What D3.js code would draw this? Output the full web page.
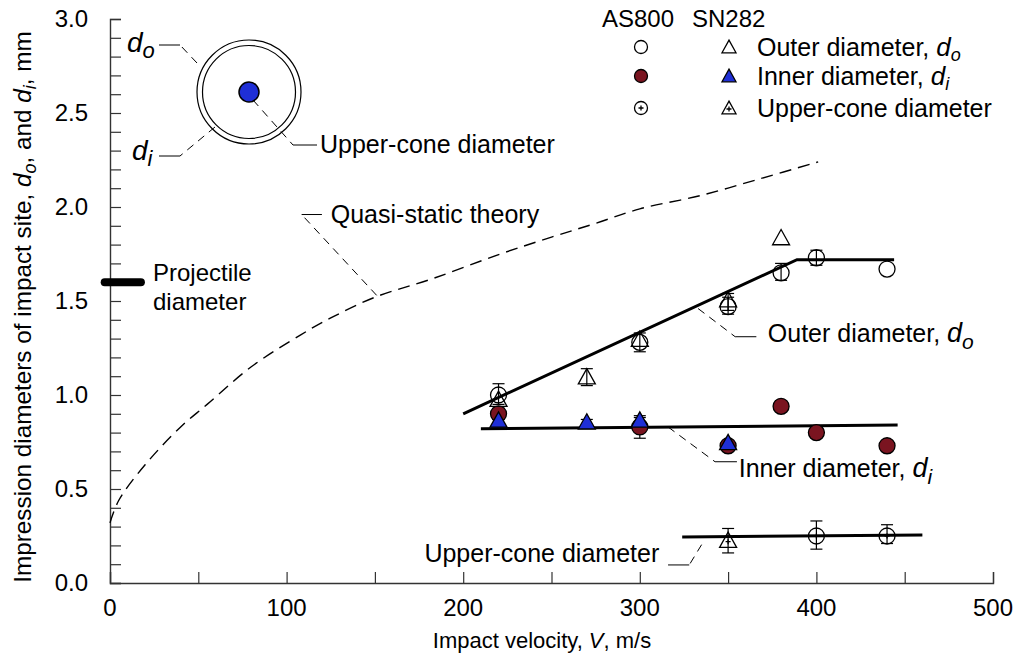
<!DOCTYPE html>
<html>
<head>
<meta charset="utf-8">
<script src="https://cdn.jsdelivr.net/npm/d3@7"></script>
<style>
  body { margin: 0; background: #fff; }
  svg { font-family: "Liberation Sans", Arial, sans-serif; }
</style>
</head>
<body>
<svg id="chart" width="1023" height="658"></svg>
<script>
// data
const xTicks = [0, 100, 200, 300, 400, 500];
const yTicks = [0, 0.5, 1.0, 1.5, 2.0, 2.5, 3.0];

// AS800 (circles)
const asOuterV = [220, 300, 350, 380, 400, 440];
const asOuterD = [1.00, 1.28, 1.47, 1.65, 1.73, 1.67];
const asOuterLo = [0.95, 1.23, 1.43, 1.61, 1.69, null];
const asOuterHi = [1.06, 1.33, 1.52, 1.70, 1.77, null];

const asInnerV = [220, 300, 350, 380, 400, 440];
const asInnerD = [0.90, 0.83, 0.73, 0.94, 0.80, 0.73];
const asInnerLo = [0.87, 0.77, null, 0.92, 0.78, null];
const asInnerHi = [0.93, 0.89, null, 0.96, 0.82, null];

const asConeV = [400, 440];
const asConeD = [0.25, 0.25];
const asConeLo = [0.18, 0.21];
const asConeHi = [0.33, 0.31];

// SN282 (triangles)
const snOuterV = [220, 270, 300, 350, 380];
const snOuterD = [0.97, 1.09, 1.29, 1.50, 1.83];
const snOuterLo = [null, 1.05, null, 1.45, null];
const snOuterHi = [null, 1.14, null, 1.54, null];

const snInnerV = [220, 270, 300, 350];
const snInnerD = [0.86, 0.85, 0.86, 0.74];
const snInnerLo = [null, 0.83, null, null];
const snInnerHi = [null, 0.87, 0.88, null];

const snConeV = [350];
const snConeD = [0.22];
const snConeLo = [0.16];
const snConeHi = [0.29];

// fitted lines
const fitOuterV = [200, 389, 444];
const fitOuterD = [0.90, 1.72, 1.72];
const fitInnerV = [210, 446];
const fitInnerD = [0.82, 0.84];
const fitConeV = [324, 460];
const fitConeD = [0.245, 0.255];

// quasi-static theory curve
const theoryV = [0, 5, 20, 40, 55, 80, 108, 125, 150, 183, 221, 250, 274, 300, 334, 368, 401];
const theoryD = [0.32, 0.44, 0.63, 0.83, 0.95, 1.15, 1.32, 1.41, 1.52, 1.62, 1.75, 1.84, 1.91, 1.99, 2.06, 2.15, 2.24];

const projectileD = 1.6;

const svg = d3.select('#chart');
const x = d3.scaleLinear().domain([0, 500]).range([110, 993]);
const y = d3.scaleLinear().domain([0, 3]).range([583, 19]);

const RED = '#7a1420', BLUE = '#1f2fd6';
const FS = 25;

// axes
const xAxis = d3.axisBottom(x).tickValues(d3.range(0, 501, 50)).tickSize(-11).tickFormat('');
const yAxis = d3.axisLeft(y).tickValues(d3.range(0, 3.01, 0.1)).tickSize(-11).tickFormat('');
const gx = svg.append('g').attr('transform', 'translate(0,583)').call(xAxis);
const gy = svg.append('g').attr('transform', 'translate(110,0)').call(yAxis);
[gx, gy].forEach(g => {
    g.select('.domain').attr('stroke', '#333').attr('stroke-width', 1.4);
    g.selectAll('.tick line').attr('stroke', '#333').attr('stroke-width', 1.2);
});

svg.selectAll('.xlab').data(xTicks).join('text')
    .attr('x', d => x(d)).attr('y', 616)
    .attr('text-anchor', 'middle').attr('font-size', 24)
    .text(d => d);
svg.selectAll('.ylab').data(yTicks).join('text')
    .attr('x', 88).attr('y', d => y(d) + 8)
    .attr('text-anchor', 'end').attr('font-size', 24)
    .text(d => d.toFixed(1));

// axis titles
const xt = svg.append('text').attr('x', 542).attr('y', 648)
    .attr('text-anchor', 'middle').attr('font-size', 22);
xt.append('tspan').text('Impact velocity, ');
xt.append('tspan').attr('font-style', 'italic').text('V');
xt.append('tspan').text(', m/s');

const yt = svg.append('text').attr('transform', 'translate(31,307) rotate(-90)')
    .attr('text-anchor', 'middle').attr('font-size', 24.3);
yt.append('tspan').text('Impression diameters of impact site, ');
yt.append('tspan').attr('font-style', 'italic').text('d');
yt.append('tspan').attr('font-style', 'italic').attr('font-size', 18).attr('dy', 5).text('o');
yt.append('tspan').attr('dy', -5).text(', and ');
yt.append('tspan').attr('font-style', 'italic').text('d');
yt.append('tspan').attr('font-style', 'italic').attr('font-size', 18).attr('dy', 5).text('i');
yt.append('tspan').attr('dy', -5).text(', mm');

// quasi-static theory
const line = d3.line().x(d => x(d[0])).y(d => y(d[1]));
svg.append('path')
    .attr('d', line.curve(d3.curveCatmullRom)(d3.zip(theoryV, theoryD)))
    .attr('fill', 'none').attr('stroke', '#000').attr('stroke-width', 1.4)
    .attr('stroke-dasharray', '12,7');
line.curve(d3.curveLinear);

// projectile diameter bar
svg.append('line')
    .attr('x1', x(-3)).attr('x2', x(17.5)).attr('y1', y(projectileD)).attr('y2', y(projectileD))
    .attr('stroke', '#000').attr('stroke-width', 8).attr('stroke-linecap', 'round');
svg.append('text').attr('x', 153).attr('y', 281).attr('font-size', 24).text('Projectile');
svg.append('text').attr('x', 153).attr('y', 310).attr('font-size', 24).text('diameter');

// fitted lines
[[fitOuterV, fitOuterD], [fitInnerV, fitInnerD], [fitConeV, fitConeD]].forEach(([v, d]) => {
    svg.append('path').attr('d', line(d3.zip(v, d)))
        .attr('fill', 'none').attr('stroke', '#000').attr('stroke-width', 3);
});

// markers
function errorBars(v, lo, hi) {
    const g = svg.append('g').attr('stroke', '#000').attr('stroke-width', 1.2);
    v.forEach((vv, i) => {
        if (lo[i] == null && hi[i] == null) return;
        const cx = x(vv);
        const top = hi[i] == null ? null : y(hi[i]);
        const bot = lo[i] == null ? null : y(lo[i]);
        g.append('line').attr('x1', cx).attr('x2', cx)
            .attr('y1', top == null ? bot : top).attr('y2', bot == null ? top : bot);
        if (top != null) g.append('line').attr('x1', cx - 6).attr('x2', cx + 6).attr('y1', top).attr('y2', top);
        if (bot != null) g.append('line').attr('x1', cx - 6).attr('x2', cx + 6).attr('y1', bot).attr('y2', bot);
    });
}
function triPath(cx, cy, s) {
    const h = s * 0.9;
    return `M${cx},${cy - h * 0.62}L${cx + s / 2},${cy + h * 0.38}L${cx - s / 2},${cy + h * 0.38}Z`;
}
function plus(g, cx, cy) {
    g.append('path').attr('d', `M${cx - 2.5},${cy}H${cx + 2.5}M${cx},${cy - 2.5}V${cy + 2.5}`)
        .attr('stroke', '#000').attr('stroke-width', 1.3);
}
function circles(g, cx, cy, r, fill, dot) {
    g.append('circle').attr('cx', cx).attr('cy', cy).attr('r', r)
        .attr('fill', fill).attr('stroke', '#000').attr('stroke-width', 1.3);
    if (dot) plus(g, cx, cy);
}
function tri(g, cx, cy, s, fill, dot) {
    g.append('path').attr('d', triPath(cx, cy, s))
        .attr('fill', fill).attr('stroke', '#000').attr('stroke-width', 1.3);
    if (dot) plus(g, cx, cy);
}
function circleSeries(v, d, lo, hi, fill, dot) {
    errorBars(v, lo, hi);
    const g = svg.append('g');
    v.forEach((vv, i) => circles(g, x(vv), y(d[i]), 8, fill, dot));
}
function triSeries(v, d, lo, hi, fill, dot) {
    errorBars(v, lo, hi);
    const g = svg.append('g');
    v.forEach((vv, i) => tri(g, x(vv), y(d[i]), 17, fill, dot));
}

circleSeries(asOuterV, asOuterD, asOuterLo, asOuterHi, 'none', false);
circleSeries(asInnerV, asInnerD, asInnerLo, asInnerHi, RED, false);
circleSeries(asConeV, asConeD, asConeLo, asConeHi, 'none', true);
triSeries(snOuterV, snOuterD, snOuterLo, snOuterHi, 'none', false);
triSeries(snInnerV, snInnerD, snInnerLo, snInnerHi, BLUE, false);
triSeries(snConeV, snConeD, snConeLo, snConeHi, 'none', true);

// leader lines with labels
function leader(pts) {
    // pts: [dashed start, elbow, end] in data units
    const p = pts.map(q => [x(q[0]), y(q[1])]);
    svg.append('path').attr('d', `M${p[0]}L${p[1]}`).attr('fill', 'none')
        .attr('stroke', '#000').attr('stroke-width', 1).attr('stroke-dasharray', '8,6');
    svg.append('path').attr('d', `M${p[1]}L${p[2]}`).attr('fill', 'none')
        .attr('stroke', '#000').attr('stroke-width', 1);
}
leader([[151, 1.53], [108.5, 1.96], [120, 1.96]]);
svg.append('text').attr('x', x(125)).attr('y', y(1.915)).attr('font-size', FS).text('Quasi-static theory');

leader([[333, 1.46], [354, 1.31], [366, 1.31]]);
const ot = svg.append('text').attr('x', x(372.5)).attr('y', y(1.28)).attr('font-size', FS);
ot.append('tspan').text('Outer diameter, ');
ot.append('tspan').attr('font-style', 'italic').attr('font-size', 27).text('d');
ot.append('tspan').attr('font-style', 'italic').attr('font-size', 21).attr('dy', 7).text('o');

leader([[316, 0.83], [342.6, 0.645], [355, 0.645]]);
const it = svg.append('text').attr('x', x(356)).attr('y', y(0.565)).attr('font-size', FS);
it.append('tspan').text('Inner diameter, ');
it.append('tspan').attr('font-style', 'italic').attr('font-size', 27).text('d');
it.append('tspan').attr('font-style', 'italic').attr('font-size', 21).attr('dy', 7).text('i');

leader([[335, 0.204], [328, 0.096], [316, 0.096]]);
svg.append('text').attr('x', x(311)).attr('y', y(0.112)).attr('text-anchor', 'end')
    .attr('font-size', FS).text('Upper-cone diameter');

// inset diagram
const dg = svg.append('g');
dg.append('circle').attr('cx', 249).attr('cy', 92).attr('r', 52).attr('fill', 'none').attr('stroke', '#000').attr('stroke-width', 1.2);
dg.append('circle').attr('cx', 249).attr('cy', 92).attr('r', 46.5).attr('fill', 'none').attr('stroke', '#000').attr('stroke-width', 1.2);
dg.append('circle').attr('cx', 249).attr('cy', 92).attr('r', 10).attr('fill', BLUE).attr('stroke', '#000').attr('stroke-width', 1.5);
function dLeader(a, b, c) {
    dg.append('path').attr('d', `M${a}L${b}`).attr('stroke', '#000').attr('stroke-dasharray', '8,6').attr('fill', 'none');
    dg.append('path').attr('d', `M${b}L${c}`).attr('stroke', '#000').attr('fill', 'none');
}
dLeader([197, 63], [180, 45], [159, 45]);
dLeader([215, 127], [180, 156], [159, 156]);
dLeader([253, 100], [293, 145], [317, 145]);
const dO = dg.append('text').attr('x', 127).attr('y', 52).attr('font-size', 28).attr('font-style', 'italic');
dO.append('tspan').text('d');
dO.append('tspan').attr('font-size', 22).attr('dy', 6).text('o');
const dI = dg.append('text').attr('x', 132).attr('y', 160).attr('font-size', 28).attr('font-style', 'italic');
dI.append('tspan').text('d');
dI.append('tspan').attr('font-size', 22).attr('dy', 6).text('i');
dg.append('text').attr('x', 320).attr('y', 153).attr('font-size', FS).text('Upper-cone diameter');

// legend
const lg = svg.append('g');
lg.append('text').attr('x', 602).attr('y', 27).attr('font-size', 24).text('AS800');
lg.append('text').attr('x', 692).attr('y', 27).attr('font-size', 24).text('SN282');
const legendRows = [
    { fill: 'none', dot: false, label: 'Outer diameter, ', sub: 'o' },
    { fill: RED, fillT: BLUE, dot: false, label: 'Inner diameter,  ', sub: 'i' },
    { fill: 'none', dot: true, label: 'Upper-cone diameter', sub: null }
];
const rowY = [47, 76, 108];
legendRows.forEach((r, i) => {
    circles(lg, 641, rowY[i], 6.5, r.fill, r.dot);
    tri(lg, 729, rowY[i] + 1, 14, r.fillT || r.fill, r.dot);
    const t = lg.append('text').attr('x', 757).attr('y', rowY[i] + 9).attr('font-size', FS);
    t.append('tspan').text(r.label);
    if (r.sub) {
        t.append('tspan').attr('font-style', 'italic').attr('font-size', 26).text('d');
        t.append('tspan').attr('font-style', 'italic').attr('font-size', 18).attr('dy', 5).text(r.sub);
    }
});
</script>
</body>
</html>
